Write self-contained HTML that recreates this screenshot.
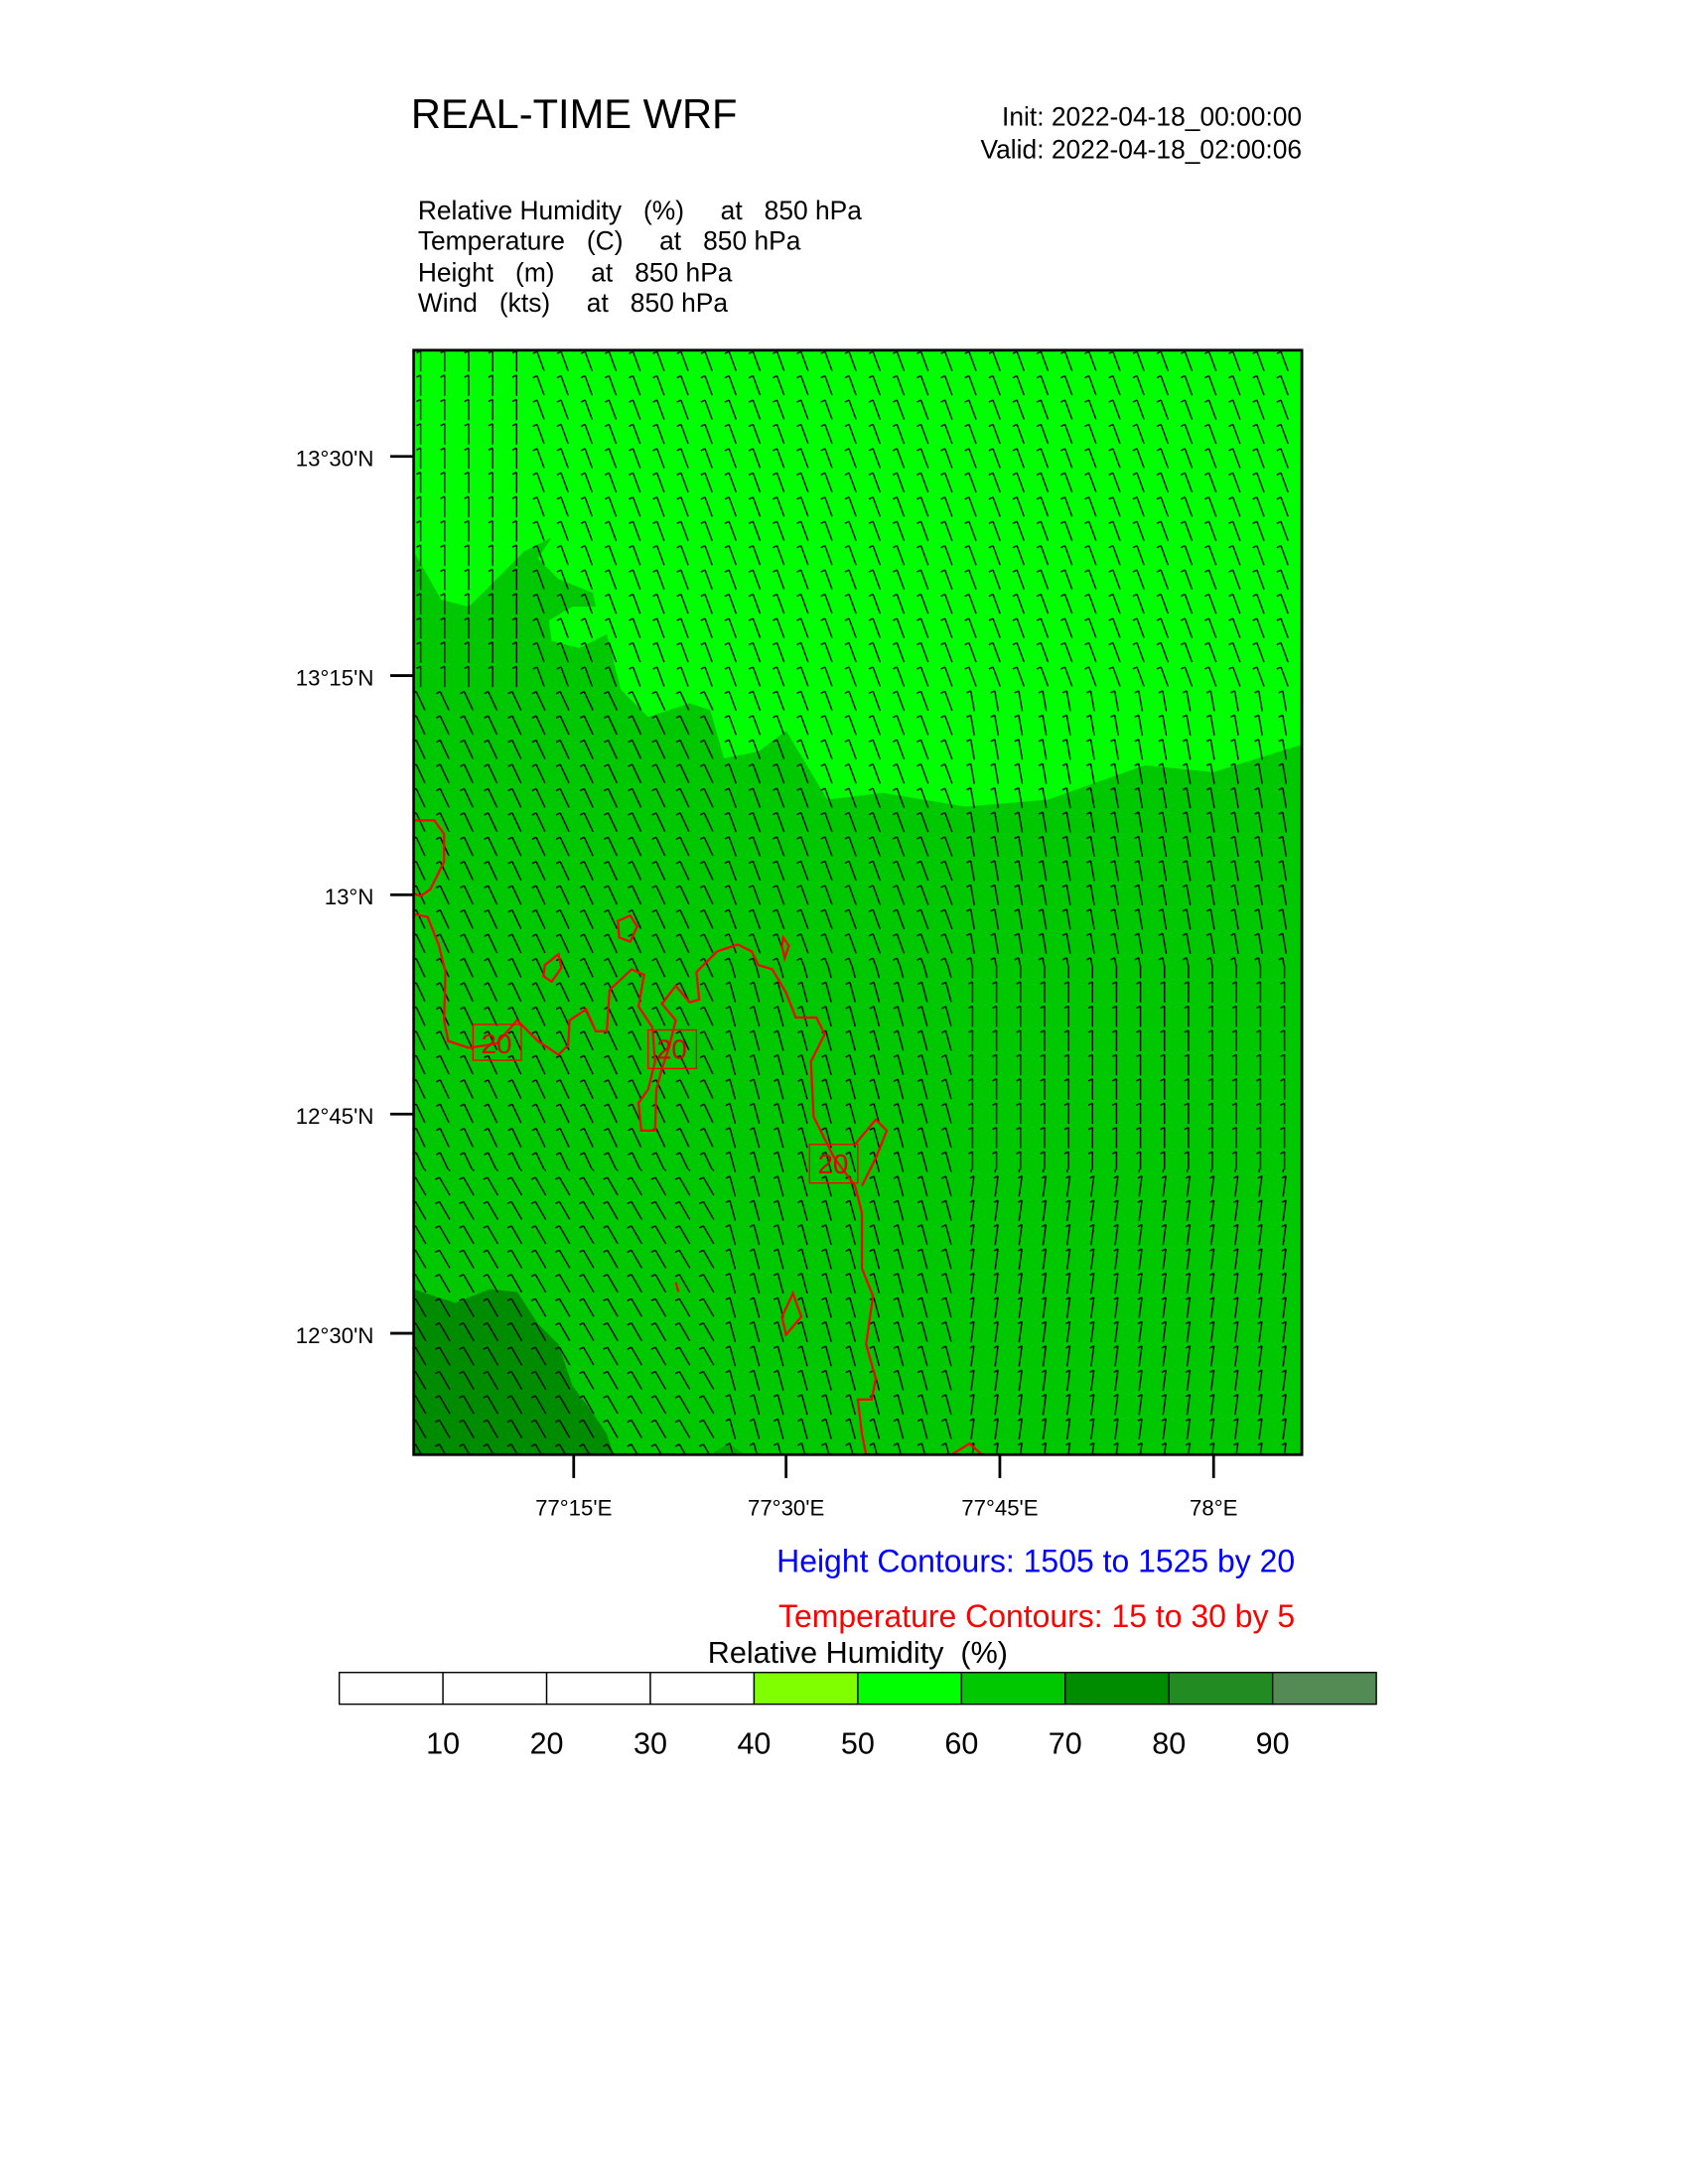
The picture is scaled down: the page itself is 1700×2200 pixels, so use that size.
<!DOCTYPE html>
<html><head><meta charset="utf-8"><style>html,body{margin:0;padding:0;background:#fff}svg{display:block}.pre{white-space:pre}</style></head>
<body>
<svg width="1700" height="2200" viewBox="0 0 1224 1584" xmlns="http://www.w3.org/2000/svg" font-family="Liberation Sans, sans-serif">
<defs>
<clipPath id="c"><rect x="300" y="254" width="644" height="801"/></clipPath>
<pattern id="a0" patternUnits="userSpaceOnUse" x="296.3" y="253.2" width="17.4" height="17.6"><path d="M8.7,1.3L8.7,16.3M8.7,1.3l-3,1.5" stroke="#000" stroke-width="1" fill="none"/></pattern>
<pattern id="am8" patternUnits="userSpaceOnUse" x="296.3" y="253.2" width="17.4" height="17.6"><path d="M9.74,1.37L7.66,16.23M9.74,1.37l-3,1.5" stroke="#000" stroke-width="1" fill="none"/></pattern>
<pattern id="a10" patternUnits="userSpaceOnUse" x="296.3" y="253.2" width="17.4" height="17.6"><path d="M7.4,1.41L10,16.19M7.4,1.41l-3,1.5" stroke="#000" stroke-width="1" fill="none"/></pattern>
<pattern id="a15" patternUnits="userSpaceOnUse" x="296.3" y="253.2" width="17.4" height="17.6"><path d="M6.76,1.56L10.64,16.04M6.76,1.56l-3,1.5" stroke="#000" stroke-width="1" fill="none"/></pattern>
<pattern id="a20" patternUnits="userSpaceOnUse" x="296.3" y="253.2" width="17.4" height="17.6"><path d="M6.13,1.75L11.27,15.85M6.13,1.75l-3,1.5" stroke="#000" stroke-width="1" fill="none"/></pattern>
<pattern id="a25" patternUnits="userSpaceOnUse" x="296.3" y="253.2" width="17.4" height="17.6"><path d="M5.53,2L11.87,15.6M5.53,2l-3,1.5" stroke="#000" stroke-width="1" fill="none"/></pattern>
<pattern id="a30" patternUnits="userSpaceOnUse" x="296.3" y="253.2" width="17.4" height="17.6"><path d="M4.95,2.3L12.45,15.3M4.95,2.3l-3,1.5" stroke="#000" stroke-width="1" fill="none"/></pattern>
</defs>
<rect width="1224" height="1584" fill="#fff"/>
<text x="298" y="93" font-size="30">REAL-TIME WRF</text>
<text x="944" y="91" font-size="19" text-anchor="end">Init: 2022-04-18_00:00:00</text>
<text x="944" y="115" font-size="19" text-anchor="end">Valid: 2022-04-18_02:00:06</text>
<g font-size="19" class="pre">
<text x="303" y="159" class="pre">Relative Humidity   (%)     at   850 hPa</text>
<text x="303" y="181" class="pre">Temperature   (C)     at   850 hPa</text>
<text x="303" y="204" class="pre">Height   (m)     at   850 hPa</text>
<text x="303" y="226" class="pre">Wind   (kts)     at   850 hPa</text>
</g>
<g clip-path="url(#c)">
<rect x="300" y="254" width="644" height="801" fill="#00c800"/>
<path d="M300,254 L944,254 L944,540 L880,560 L830,555 L760,580 L700,585 L640,575 L600,580 L570,530 L550,545 L525,550 L515,515 L500,510 L470,520 L450,500 L440,460 L420,470 L400,465 L398,450 L415,440 L432,440 L430,430 L405,420 L390,405 L400,390 L380,400 L360,420 L340,440 L320,435 L300,400 Z" fill="#00ff00"/>
<path d="M300,935 L330,945 L355,935 L375,937 L390,960 L405,975 L415,1005 L430,1025 L440,1040 L445,1055 L300,1055 Z" fill="#008c00"/>
<path d="M515,1055 L528,1047 L540,1055Z" fill="#00a800"/>
<rect x="296" y="253" width="87.3" height="247" fill="url(#a0)"/>
<rect x="383.3" y="253" width="565" height="247" fill="url(#a20)"/>
<rect x="296" y="500" width="226" height="200" fill="url(#a25)"/>
<rect x="522" y="500" width="174" height="200" fill="url(#a20)"/>
<rect x="696" y="500" width="252" height="200" fill="url(#a10)"/>
<rect x="296" y="700" width="226" height="148" fill="url(#a25)"/>
<rect x="522" y="700" width="174" height="148" fill="url(#a15)"/>
<rect x="696" y="700" width="252" height="148" fill="url(#a0)"/>
<rect x="296" y="848" width="226" height="210" fill="url(#a30)"/>
<rect x="522" y="848" width="174" height="210" fill="url(#a15)"/>
<rect x="696" y="848" width="252" height="210" fill="url(#am8)"/>
<g stroke="#f00" stroke-width="1.6" fill="none">
<path d="M300,595 L315,595 L322,605 L322,625 L312,645 L305,650 L300,648"/>
<path d="M300,663 L310,665 L318,685 L323,705 L322,740 L325,755 L340,760 L360,757 L375,740 L390,755 L405,765 L412,758 L413,740 L425,732 L432,748 L440,748 L442,718 L458,703 L467,707 L463,730 L473,745 L475,770 L470,790 L463,800 L465,820 L475,820 L476,790 L480,775 L485,760 L490,740 L480,728 L490,715 L500,727 L507,725 L505,705 L520,690 L535,685 L545,690 L550,700 L560,703 L570,720 L577,738 L592,738 L598,750 L588,770 L590,810 L605,840 L620,860 L625,880 L625,920 L633,940 L628,975 L635,1000 L632,1015 L622,1015 L625,1040 L628,1055"/>
<path d="M448,668 L457,664 L462,672 L457,683 L449,680 Z"/>
<path d="M395,700 L405,692 L407,702 L400,712 L394,708 Z"/>
<path d="M568,680 L572,686 L569,695 L567,686 Z"/>
<path d="M620,830 L635,812 L643,820 L635,840 L625,860"/>
<path d="M575,938 L581,955 L570,968 L567,955 Z"/>
<path d="M490,930 L492,937"/>
<path d="M690,1055 L703,1047 L712,1055"/>
<rect x="343" y="743" width="35" height="26" stroke-width="1"/>
<rect x="470" y="747" width="35" height="28" stroke-width="1"/>
<rect x="587" y="830" width="35" height="28" stroke-width="1"/>
</g>
<g fill="#e00000" font-size="20" text-anchor="middle"><text x="360" y="764">20</text><text x="487" y="768">20</text><text x="604" y="851">20</text></g>
</g>
<rect x="300" y="254" width="644" height="801" fill="none" stroke="#000" stroke-width="2"/>
<g stroke="#000" stroke-width="2">
<line x1="283" y1="331" x2="300" y2="331"/><line x1="283" y1="490" x2="300" y2="490"/><line x1="283" y1="649" x2="300" y2="649"/><line x1="283" y1="808" x2="300" y2="808"/><line x1="283" y1="967" x2="300" y2="967"/>
<line x1="416" y1="1055" x2="416" y2="1072"/><line x1="570" y1="1055" x2="570" y2="1072"/><line x1="725" y1="1055" x2="725" y2="1072"/><line x1="880" y1="1055" x2="880" y2="1072"/>
</g>
<g font-size="16" text-anchor="end">
<text x="271" y="338">13°30'N</text><text x="271" y="497">13°15'N</text><text x="271" y="656">13°N</text><text x="271" y="815">12°45'N</text><text x="271" y="974">12°30'N</text>
</g>
<g font-size="16" text-anchor="middle">
<text x="416" y="1099">77°15'E</text><text x="570" y="1099">77°30'E</text><text x="725" y="1099">77°45'E</text><text x="880" y="1099">78°E</text>
</g>
<text x="939" y="1140" font-size="23" fill="#0000ff" text-anchor="end">Height Contours: 1505 to 1525 by 20</text>
<text x="939" y="1180" font-size="23" fill="#ff0000" text-anchor="end">Temperature Contours: 15 to 30 by 5</text>
<text x="622" y="1206" font-size="22" text-anchor="middle" class="pre">Relative Humidity  (%)</text>
<g stroke="#000" stroke-width="1">
<rect x="246" y="1213" width="75.2" height="23" fill="#fff"/>
<rect x="321.2" y="1213" width="75.2" height="23" fill="#fff"/>
<rect x="396.4" y="1213" width="75.2" height="23" fill="#fff"/>
<rect x="471.6" y="1213" width="75.2" height="23" fill="#fff"/>
<rect x="546.8" y="1213" width="75.2" height="23" fill="#80ff00"/>
<rect x="622" y="1213" width="75.2" height="23" fill="#00ff00"/>
<rect x="697.2" y="1213" width="75.2" height="23" fill="#00c800"/>
<rect x="772.4" y="1213" width="75.2" height="23" fill="#008c00"/>
<rect x="847.6" y="1213" width="75.2" height="23" fill="#228b22"/>
<rect x="922.8" y="1213" width="75.2" height="23" fill="#548b54"/>
</g>
<g font-size="22" text-anchor="middle">
<text x="321.2" y="1272">10</text><text x="396.4" y="1272">20</text><text x="471.6" y="1272">30</text><text x="546.8" y="1272">40</text><text x="622" y="1272">50</text><text x="697.2" y="1272">60</text><text x="772.4" y="1272">70</text><text x="847.6" y="1272">80</text><text x="922.8" y="1272">90</text>
</g>
</svg>
</body></html>
